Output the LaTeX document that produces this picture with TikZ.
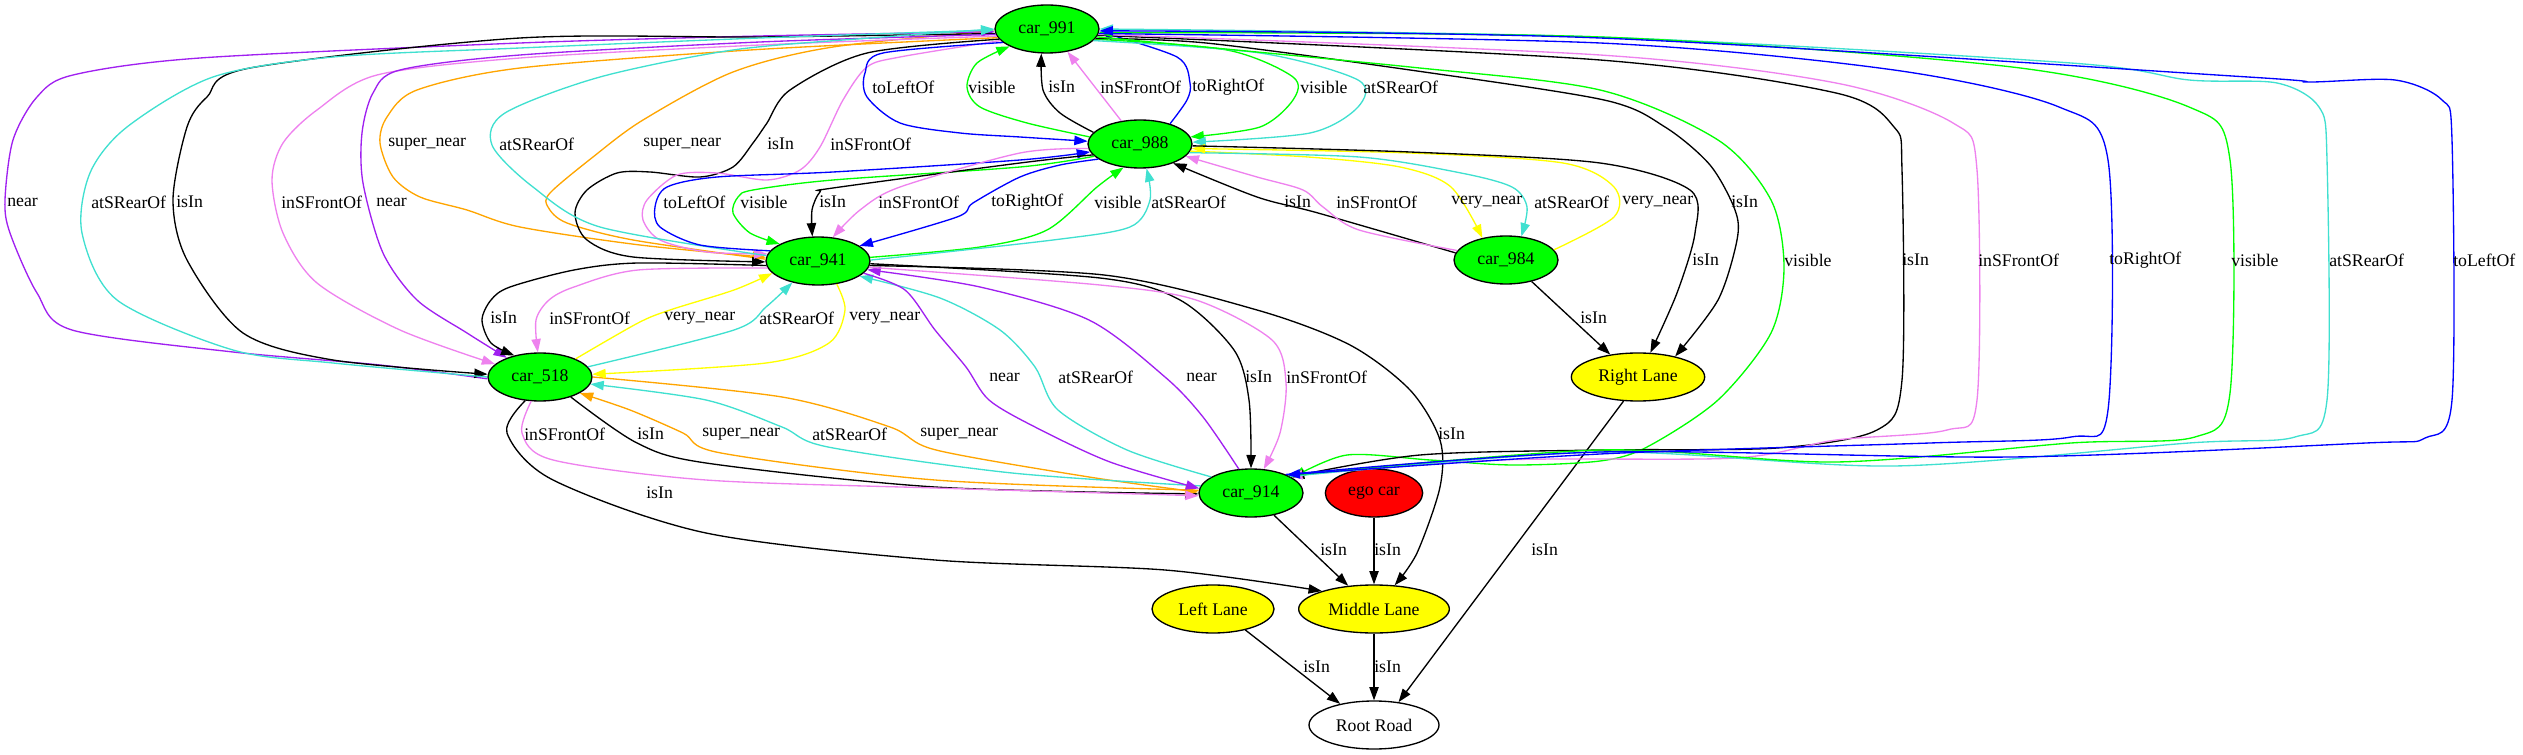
\documentclass[tikz,border=0pt]{standalone}
\usepackage{fontspec}
\setmainfont{Liberation Serif}
\usetikzlibrary{shapes.geometric,arrows.meta}
\definecolor{gvgreen}{HTML}{00FF00}
\definecolor{gvpurple}{HTML}{A020F0}
\definecolor{gvviolet}{HTML}{EE82EE}
\definecolor{gvturq}{HTML}{40E0D0}
\definecolor{gvorange}{HTML}{FFA500}
\definecolor{gvblue}{HTML}{0000FF}
\definecolor{gvyellow}{HTML}{FFFF00}
\definecolor{gvred}{HTML}{FF0000}
\newcommand{\gvfont}{\fontsize{13.3}{15}\selectfont}
\begin{document}
\begin{tikzpicture}[x=0.75pt,y=-0.75pt,
  nd/.style={ellipse,draw=black,line width=1pt,minimum height=36pt,inner sep=0pt,font=\gvfont},
  car/.style={nd,fill=gvgreen,minimum width=78pt},
  lane/.style={nd,fill=gvyellow},
  edg/.style={line width=1pt,-{Triangle[length=10pt,width=7pt]}},
  lbl/.style={inner sep=0pt,anchor=west,font=\gvfont}]
\path[use as bounding box] (0,0) rectangle (2523,755);
% nodes
\node[car] (c991) at (1047,29) {car\_991};
\node[car] (c988) at (1140,144) {car\_988};
\node[car] (c941) at (818,261) {car\_941};
\node[car] (c518) at (540,377) {car\_518};
\node[car] (c984) at (1506,260) {car\_984};
\node[car] (c914) at (1251,493) {car\_914};
\node[nd,fill=gvred,minimum width=73pt] (ego) at (1374,493) {ego car};
\node[lane,minimum width=100pt] (rl) at (1638,377) {Right Lane};
\node[lane,minimum width=91.5pt] (ll) at (1213,609) {Left Lane};
\node[lane,minimum width=113pt] (ml) at (1374,609) {Middle Lane};
\node[nd,fill=white,minimum width=97.5pt] (rr) at (1374,725) {Root Road};
% orange car_941 -> car_991 (drawn first, arrow hidden under cyan)
\draw[edg,gvorange] plot[smooth] coordinates {(c941.178) (633,240) (567,223) (548,207) (550,193) (593,157) (643,120) (733,72) (833,47) (c991.182)};
% group A: car_991 <-> car_518
\draw[edg,gvpurple] plot[smooth] coordinates {(c518.182) (380,365) (233,352) (72,330) (37,293) (10,233) (5,200) (13,140) (37,97) (73,75) (200,58) (520,43) (760,36) (c991.183)};
\draw[edg,black] plot[smooth] coordinates {(c991.185) (760,37) (520,38) (250,68) (207,97) (187,127) (173,200) (187,260) (243,333) (333,360) (c518.177)};
\draw[edg,gvviolet] plot[smooth] coordinates {(c991.188) (760,45) (520,58) (377,75) (317,110) (283,143) (272,180) (283,233) (317,283) (400,330) (c518.164)};
\draw[edg,gvpurple] plot[smooth] coordinates {(c991.186) (760,42) (520,55) (400,70) (373,93) (362,133) (363,183) (383,253) (417,300) (467,333) (c518.150)};
% group B: car_991 <-> car_941
\draw[edg,gvorange] plot[smooth] coordinates {(c991.190) (750,50) (520,68) (417,90) (387,117) (380,143) (393,177) (420,197) (467,210) (520,227) (640,245) (c941.176)};
\draw[edg,black] plot[smooth] coordinates {(c991.192) (867,53) (790,90) (767,123) (753,143) (733,167) (700,177) (650,172) (617,173) (587,190) (575,213) (587,240) (633,257) (c941.181)};
\draw[edg,gvviolet] plot[smooth] coordinates {(c991.194) (900,57) (867,67) (843,100) (820,147) (800,170) (767,180) (717,173) (677,175) (647,200) (643,220) (660,240) (707,252) (c941.172)};
\draw[edg,gvturq] plot[smooth] coordinates {(c518.180) (333,363) (233,350) (117,300) (82,233) (90,173) (127,127) (213,77) (333,57) (520,48) (760,38) (c991.181)};
\draw[edg,gvturq] plot[smooth] coordinates {(c941.174) (600,227) (533,187) (492,145) (505,113) (600,77) (733,50) (870,38) (c991.180)};
% group C: car_991 <-> car_988
\draw[edg,gvblue] plot[smooth] coordinates {(c991.197) (883,53) (865,73) (867,97) (900,123) (960,133) (1020,137) (c988.177)};
\draw[edg,gvgreen] plot[smooth] coordinates {(c988.172) (1027,123) (980,107) (967,87) (977,63) (c991.205)};
\draw[edg,black] plot[smooth] coordinates {(c988.166) (1060,113) (1043,90) (c991.257)};
\draw[edg,gvviolet] (c988.129) -- (c991.312);
\draw[edg,gvblue] plot[smooth] coordinates {(c988.34) (1187,100) (1190,83) (1177,57) (c991.357)};
\draw[edg,gvgreen] plot[smooth] coordinates {(c991.348) (1227,50) (1293,77) (1293,100) (1260,127) (c988.8)};
\draw[edg,gvturq] plot[smooth] coordinates {(c991.346) (1260,53) (1358,80) (1358,107) (1310,133) (c988.2)};
% group D: car_988 <-> car_941
\draw[edg,gvblue] plot[smooth] coordinates {(c941.168) (700,245) (660,227) (655,207) (667,187) (717,177) (833,172) (1020,160) (c988.189)};
\draw[edg,gvgreen] plot[smooth] coordinates {(c988.195) (1020,167) (833,180) (753,190) (738,197) (733,213) (750,233) (c941.156)};
\draw[edg,black] plot[smooth] coordinates {(c988.193) (1020,163) (833,188) (820,192) (812,210) (c941.103)};
\draw[edg,gvviolet] plot[smooth] coordinates {(c988.185) (1020,153) (900,187) (860,210) (c941.58)};
\draw[edg,gvblue] plot[smooth] coordinates {(c988.200) (1060,165) (1020,177) (973,203) (957,217) (c941.20)};
\draw[edg,gvgreen] plot[smooth] coordinates {(c941.4) (980,247) (1047,230) (1097,187) (c988.235)};
\draw[edg,gvturq] plot[smooth] coordinates {(c941.1) (1053,240) (1130,227) (1150,200) (c988.285)};
% group E: car_988 <-> car_984
\draw[edg,black] plot[smooth] coordinates {(c984.172) (1318,213) (1257,197) (c988.330)};
\draw[edg,gvviolet] plot[smooth] coordinates {(c984.169) (1359,230) (1323,207) (1303,190) (1257,177) (c988.345)};
\draw[edg,gvyellow] plot[smooth] coordinates {(c988.352) (1308,157) (1400,167) (1451,187) (c984.137)};
\draw[edg,gvturq] plot[smooth] coordinates {(c988.350) (1359,157) (1461,173) (1512,187) (1527,207) (c984.57)};
\draw[edg,gvyellow] plot[smooth] coordinates {(c984.12) (1614,217) (1614,187) (1563,163) (1410,153) (c988.355)};
% group F: isIn to Right Lane
\draw[edg,black] (c984.320) -- (rl.141);
\draw[edg,black] plot[smooth] coordinates {(c988.358) (1410,152) (1600,163) (1690,190) (1695,233) (1677,293) (rl.63)};
\draw[edg,black] plot[smooth] coordinates {(c991.349) (1206,43) (1410,70) (1604,100) (1665,127) (1710,165) (1735,210) (1737,240) (1718,300) (rl.29)};
% group G: car_941 <-> car_518
\draw[edg,gvviolet] plot[smooth] coordinates {(c941.188) (638,270) (574,287) (549,300) (536,320) (c518.95)};
\draw[edg,black] plot[smooth] coordinates {(c941.185) (638,263) (574,270) (510,287) (491,300) (482,320) (491,343) (c518.140)};
\draw[edg,gvyellow] plot[smooth] coordinates {(c518.27) (638,323) (670,310) (734,290) (c941.195)};
\draw[edg,gvturq] plot[smooth] coordinates {(c518.12) (734,330) (766,307) (c941.220)};
% group H: car_941 <-> car_914
\draw[edg,gvturq] plot[smooth] coordinates {(c914.158) (1127,450) (1058,410) (1035,367) (1000,330) (940,298) (c941.340)};
\draw[edg,gvpurple] plot[smooth] coordinates {(c914.117) (1203,417) (1165,377) (1089,320) (980,287) (c941.350)};
\draw[edg,black] plot[smooth] coordinates {(c941.357) (1100,278) (1180,300) (1234,350) (1249,400) (c914.90)};
\draw[edg,gvviolet] plot[smooth] coordinates {(c941.353) (1100,285) (1196,300) (1272,340) (1286,383) (1280,433) (c914.62)};
\draw[edg,black] plot[smooth] coordinates {(c941.355) (1104,275) (1257,310) (1350,345) (1410,390) (1440,440) (1440,487) (1417,553) (ml.49)};
% group I: car_518 <-> car_914
\draw[edg,black] plot[smooth] coordinates {(c518.327) (637,443) (706,463) (935,487) (c914.181)};
\draw[edg,gvorange] plot[smooth] coordinates {(c518.0) (782,397) (890,427) (936,450) (1089,477) (c914.179)};
\draw[edg,gvorange] plot[smooth] coordinates {(c914.177) (935,480) (721,453) (683,433) (630,410) (c518.338)};
\draw[edg,gvturq] plot[smooth] coordinates {(c914.172) (1012,473) (828,447) (782,427) (706,400) (c518.352)};
\draw[edg,gvyellow] plot[smooth] coordinates {(c941.309) (845,310) (829,343) (766,363) (c518.3)};
\draw[edg,gvviolet] plot[smooth] coordinates {(c518.250) (522,433) (553,460) (706,480) (935,488) (c914.183)};
\draw[edg,gvpurple] plot[smooth] coordinates {(c941.345) (905,290) (935,330) (966,367) (989,400) (1035,427) (1110,462) (c914.175)};
% group J: lanes and road
\draw[edg,black] plot[smooth] coordinates {(c518.238) (507,433) (553,480) (706,533) (935,560) (1165,570) (ml.161)};
\draw[edg,black] (c914.316) -- (ml.138);
\draw[edg,black] (ego.south) -- (ml.north);
\draw[edg,black] (ll.327) -- (rr.148);
\draw[edg,black] (ml.south) -- (rr.north);
\draw[edg,black] (rl.239) -- (rr.43);
% group K: car_991 <-> car_914 long loops
\draw[edg,gvgreen] plot[smooth] coordinates {(c991.351) (1410,67) (1600,90) (1718,140) (1771,200) (1784,267) (1771,333) (1718,400) (1647,447) (1600,461) (1513,465) (1430,460) (1347,455) (c914.20)};
\draw[edg,black] plot[smooth] coordinates {(c991.353) (1600,60) (1836,93) (1894,127) (1902,170) (1902,380) (1877,430) (1777,448) (1600,450) (1420,455) (c914.22)};
\draw[edg,gvviolet] plot[smooth] coordinates {(c991.354) (1600,55) (1836,83) (1953,123) (1977,170) (1977,400) (1947,430) (1836,440) (1735,458) (1500,460) (c914.24)};
\draw[edg,gvturq] plot[smooth] coordinates {(c914.23) (1600,452) (1894,466) (2189,443) (2295,437) (2327,400) (2327,160) (2319,107) (2277,83) (2189,80) (2071,63) (1600,37) (c991.0)};
\draw[edg,gvgreen] plot[smooth] coordinates {(c914.25) (1600,450) (1836,462) (2071,443) (2195,437) (2230,393) (2230,160) (2189,107) (2012,67) (1600,37) (c991.356)};
\draw[edg,gvblue] plot[smooth] coordinates {(c914.28) (1600,452) (2012,457) (2366,443) (2425,438) (2452,400) (2452,140) (2442,100) (2395,80) (2307,82) (2248,77) (1600,38) (c991.358)};
\draw[edg,gvblue] plot[smooth] coordinates {(c991.355) (1600,43) (1894,70) (2059,107) (2108,160) (2108,410) (2071,437) (1930,443) (1600,454) (c914.27)};
% labels
\node[lbl] (la1) at (7,202) {near};
\node[lbl] (la2) at (91,202) {atSRearOf};
\node[lbl] (la3) at (176,202) {isIn};
\node[lbl] (la4) at (281,202) {inSFrontOf};
\node[lbl] (la5) at (376,202) {near};
\node[lbl] (lb1) at (388,144) {super\_near};
\node[lbl] (lb2) at (499,144) {atSRearOf};
\node[lbl] (lb3) at (643,144) {super\_near};
\node[lbl] (lb4) at (767,144) {isIn};
\node[lbl] (lb5) at (830,144) {inSFrontOf};
\node[lbl] (lc1) at (872,87) {toLeftOf};
\node[lbl] (lc2) at (968,87) {visible};
\node[lbl] (lc3) at (1048,87) {isIn};
\node[lbl] (lc4) at (1100,87) {inSFrontOf};
\node[lbl] (lc5) at (1192,87) {toRightOf};
\node[lbl] (lc6) at (1300,87) {visible};
\node[lbl] (lc7) at (1363,87) {atSRearOf};
\node[lbl] (ld1) at (663,202) {toLeftOf};
\node[lbl] (ld2) at (740,202) {visible};
\node[lbl] (ld3) at (819,202) {isIn};
\node[lbl] (ld4) at (878,202) {inSFrontOf};
\node[lbl] (ld5) at (991,202) {toRightOf};
\node[lbl] (ld6) at (1094,202) {visible};
\node[lbl] (ld7) at (1151,202) {atSRearOf};
\node[lbl] (le1) at (1284,202) {isIn};
\node[lbl] (le2) at (1336,202) {inSFrontOf};
\node[lbl] (le3) at (1451,202) {very\_near};
\node[lbl] (le4) at (1534,202) {atSRearOf};
\node[lbl] (le5) at (1622,202) {very\_near};
\node[lbl] (lf3) at (1731,202) {isIn};
\node[lbl] (lf2) at (1692,260) {isIn};
\node[lbl] (lf1) at (1580,318) {isIn};
\node[lbl] (lk1) at (1784,260) {visible};
\node[lbl] (lk2) at (1902,260) {isIn};
\node[lbl] (lk3) at (1978,260) {inSFrontOf};
\node[lbl] (lk4) at (2109,260) {toRightOf};
\node[lbl] (lk5) at (2231,260) {visible};
\node[lbl] (lk6) at (2329,260) {atSRearOf};
\node[lbl] (lk7) at (2453,260) {toLeftOf};
\node[lbl] (lg1) at (490,318) {isIn};
\node[lbl] (lg2) at (549,318) {inSFrontOf};
\node[lbl] (lg3) at (664,318) {very\_near};
\node[lbl] (lg4) at (759,318) {atSRearOf};
\node[lbl] (lg5) at (849,318) {very\_near};
\node[lbl] (lh1) at (989,377) {near};
\node[lbl] (lh2) at (1058,377) {atSRearOf};
\node[lbl] (lh3) at (1186,377) {near};
\node[lbl] (lh4) at (1245,377) {isIn};
\node[lbl] (lh5) at (1286,377) {inSFrontOf};
\node[lbl] (lh6) at (1438,434) {isIn};
\node[lbl] (li1) at (524,434) {inSFrontOf};
\node[lbl] (li2) at (637,434) {isIn};
\node[lbl] (li3) at (702,434) {super\_near};
\node[lbl] (li4) at (812,434) {atSRearOf};
\node[lbl] (li5) at (920,434) {super\_near};
\node[lbl] (lj1) at (646,493) {isIn};
\node[lbl] (lj2) at (1320,550) {isIn};
\node[lbl] (lj3) at (1374,550) {isIn};
\node[lbl] (lj6) at (1531,550) {isIn};
\node[lbl] (lj4) at (1303,667) {isIn};
\node[lbl] (lj5) at (1374,667) {isIn};
\end{tikzpicture}
\end{document}
